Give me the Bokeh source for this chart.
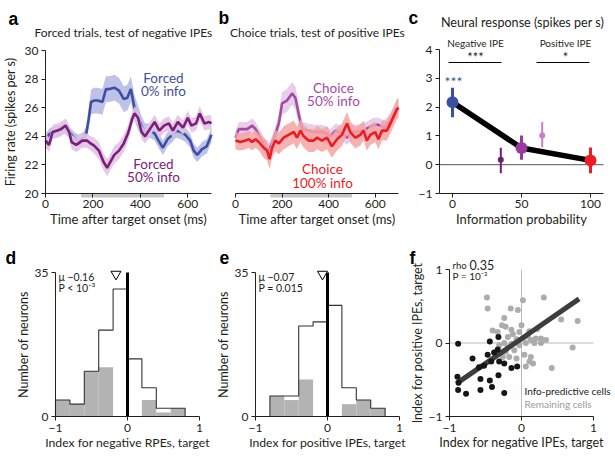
from bokeh.plotting import figure
from bokeh.layouts import row, column
from bokeh.models import Label, Range1d, FixedTicker
from bokeh.embed import file_html
from bokeh.resources import INLINE

FONT = "Lato"
INK = "#231f20"
MINUS = "\u2212"

# ---------------- data ----------------
# panel a : forced trials
a_t_f0 = [0, 20, 40, 60, 80, 100, 120, 140, 160, 172, 182, 192, 205, 220, 240, 255, 270, 290, 310, 330, 345,
          360, 375, 390, 405, 420, 440, 460, 480, 495, 515, 535, 550, 570, 590, 610, 625, 640, 660, 680, 700]
a_m_f0 = [23.8, 24.2, 24.3, 24.4, 24.6, 24.3, 23.9, 23.7, 23.9, 24.2, 25.2, 26.4, 26.5, 26.5, 26.4, 27.3, 27.3,
          27.4, 27.2, 26.6, 26.7, 27.3, 26.0, 25.3, 24.7, 24.3, 24.4, 24.2, 23.6, 23.2, 23.8, 24.1, 24.4, 24.3,
          24.1, 23.7, 23.0, 22.7, 23.1, 23.3, 24.1]
a_e_f0 = [0.4, 0.4, 0.4, 0.4, 0.4, 0.4, 0.4, 0.4, 0.4, 0.5, 0.7, 0.85, 0.9, 0.9, 0.9, 0.9, 0.9, 0.9, 0.9, 0.9,
          0.9, 0.9, 0.9, 0.85, 0.7, 0.6, 0.5, 0.5, 0.5, 0.5, 0.5, 0.5, 0.5, 0.5, 0.5, 0.5, 0.5, 0.5, 0.5, 0.5, 0.5]

a_t_f50 = [0, 15, 30, 50, 65, 85, 100, 110, 130, 155, 175, 190, 205, 225, 245, 260, 270, 290, 310, 330, 350,
           365, 375, 390, 405, 420, 440, 460, 480, 500, 520, 537, 558, 580, 600, 615, 635, 650, 670, 690, 700]
a_m_f50 = [23.7, 23.4, 24.3, 24.4, 24.5, 24.75, 24.3, 23.6, 23.4, 23.7, 23.7, 23.5, 23.35, 23.0, 22.2, 21.8,
           22.1, 22.7, 23.0, 23.5, 24.3, 25.2, 25.6, 25.3, 24.3, 24.0, 24.5, 25.0, 24.4, 24.75, 24.9, 24.4, 25.0,
           24.6, 25.3, 24.75, 24.9, 25.6, 24.9, 25.0, 24.9]
a_e_f50 = [0.5, 0.5, 0.5, 0.5, 0.5, 0.5, 0.5, 0.5, 0.5, 0.5, 0.5, 0.5, 0.55, 0.6, 0.6, 0.6, 0.6, 0.6, 0.6, 0.6,
           0.55, 0.5, 0.5, 0.5, 0.5, 0.5, 0.5, 0.5, 0.5, 0.5, 0.5, 0.5, 0.5, 0.5, 0.5, 0.5, 0.5, 0.5, 0.5, 0.5, 0.5]

# panel b : choice trials
b_t_c50 = [0, 14, 30, 50, 72, 86, 107, 129, 143, 164, 186, 200, 221, 243, 257, 271, 286, 310, 340, 370, 390,
           407, 430, 460, 479, 500, 530, 560, 593, 614, 640, 670, 700]
b_m_c50 = [23.9, 24.5, 24.5, 24.5, 24.75, 24.5, 23.9, 23.2, 23.0, 23.8, 24.9, 26.3, 26.5, 27.0, 26.7, 25.6, 24.5,
           24.4, 24.3, 24.3, 24.2, 24.0, 24.4, 24.2, 23.9, 24.3, 24.3, 24.5, 24.8, 24.8, 24.6, 25.2, 26.0]
b_e_c50 = [0.5, 0.5, 0.5, 0.5, 0.5, 0.5, 0.5, 0.5, 0.5, 0.5, 0.6, 0.8, 0.8, 0.8, 0.8, 0.7, 0.5, 0.5, 0.5, 0.5,
           0.5, 0.5, 0.5, 0.5, 0.5, 0.5, 0.5, 0.5, 0.5, 0.5, 0.5, 0.5, 0.5]

b_t_c100 = [0, 21, 43, 57, 71, 86, 100, 121, 136, 146, 157, 171, 186, 207, 228, 250, 264, 279, 293, 314, 336,
            350, 371, 393, 414, 436, 457, 479, 493, 514, 536, 550, 564, 579, 600, 614, 629, 650, 671, 693, 700]
b_m_c100 = [23.7, 23.6, 23.7, 23.8, 23.6, 23.8, 23.6, 23.2, 23.0, 22.4, 23.2, 23.7, 23.5, 23.9, 24.1, 24.3, 23.9,
            24.4, 24.0, 23.7, 23.7, 23.9, 23.7, 23.9, 23.3, 23.8, 24.1, 24.9, 24.3, 23.9, 24.1, 24.4, 23.7, 24.1,
            24.3, 23.8, 24.4, 24.4, 25.1, 25.9, 26.0]
b_e_c100 = [0.6, 0.6, 0.6, 0.6, 0.6, 0.6, 0.6, 0.7, 0.7, 0.7, 0.7, 0.75, 0.75, 0.8, 0.8, 0.8, 0.8, 0.8, 0.8, 0.8,
            0.8, 0.8, 0.8, 0.8, 0.8, 0.8, 0.8, 0.8, 0.75, 0.75, 0.75, 0.7, 0.7, 0.7, 0.7, 0.7, 0.7, 0.7, 0.7, 0.7, 0.7]

time_axis = [0, 700]
rate_axis = [20, 30]
epoch_window = [150, 500]   # grey analysis window on the time axis

# panel c : neural response vs information probability
c_prob = [0, 50, 100]
c_resp = [2.17, 0.58, 0.15]
c_lo = [1.65, 0.17, -0.30]
c_hi = [2.67, 1.01, 0.60]
c_cols = ["#3a50a2", "#9b3a9e", "#ec1c24"]
c_prob_s = [35, 65]
c_resp_s = [0.17, 1.01]
c_lo_s = [-0.30, 0.61]
c_hi_s = [0.59, 1.48]
c_cols_s = ["#6e1f72", "#c77fc9"]
c_xaxis = [-9.4, 109.4]
c_yaxis = [-1, 4]

# panels d, e : histograms
bin_edges = [-1.0, -0.8, -0.6, -0.4, -0.2, 0.0, 0.2, 0.4, 0.6, 0.8]
d_all = [4, 3, 11, 21, 31, 14, 7, 2, 2]
d_info = [4, 3, 11, 12, 0, 0, 4, 1, 2]
d_mean = -0.16
e_all = [0, 5, 5, 22, 23, 27, 7, 4, 2]
e_info = [0, 5, 4, 9, 0, 0, 3, 4, 2]
e_mean = -0.07
hist_x_axis = [-1, 1]
hist_y_axis = [0, 35]

# panel f : scatter
f_info_neg = [-0.88, -0.44, -0.32, -0.68, -0.47, -0.38, -0.33, -0.42, -0.52, -0.59, -0.31, -0.24, -0.14, -0.06,
              -0.32, -0.89, -0.875, -0.88, -0.77, -0.57, -0.44, -0.41, -0.57, -0.24]
f_info_pos = [-0.01, 0.02, 0.08, -0.21, -0.16, -0.13, -0.09, -0.25, -0.31, -0.33, -0.25, -0.28, -0.34, -0.32,
              -0.44, -0.46, -0.54, -0.64, -0.69, -0.49, -0.51, -0.60, -0.64, -0.68]
f_rest_neg = [-0.48, -0.47, 0.02, 0.31, -0.15, -0.05, -0.24, 0.55, 0.78, -0.27, -0.22, -0.40, -0.33, -0.14,
              -0.12, -0.03, 0.11, 0.22, -0.19, -0.07, 0.02, 0.13, 0.20, 0.27, 0.34, -0.24, -0.14, -0.03, 0.06,
              -0.31, -0.19, -0.10, -0.22, 0.71, -0.26, -0.17, -0.07, 0.04, 0.13, 0.11, 0.06, 0.16, 0.42, 0.00,
              0.09, 0.18, 0.27]
f_rest_pos = [0.62, 0.47, 0.58, 0.62, 0.47, 0.45, 0.34, 0.32, 0.30, 0.24, 0.22, 0.17, 0.15, 0.18, 0.12, 0.15,
              0.16, 0.19, 0.08, 0.05, 0.06, 0.04, 0.06, 0.06, 0.04, 0.00, -0.01, -0.03, 0.00, -0.03, -0.06,
              -0.10, -0.12, -0.06, -0.19, -0.19, -0.21, -0.16, -0.19, -0.25, -0.32, -0.28, -0.34, 0.24, 0.09,
              0.00, 0.00]
f_fit_x = [-0.90, 0.80]
f_fit_y = [-0.55, 0.60]
f_axis = [-1, 1]


# ---------------- helpers ----------------
class Geo:
    """page-pixel -> data mapping of one panel"""
    def __init__(self, xmap, ymap):
        self.pxa, self.da, pxb, db = xmap
        self.sx = (db - self.da) / (pxb - self.pxa)
        self.pya, self.ea, pyb, eb = ymap
        self.sy = (eb - self.ea) / (pyb - self.pya)

    def x(self, X):
        return self.da + (X - self.pxa) * self.sx

    def y(self, Y):
        return self.ea + (Y - self.pya) * self.sy


def make_panel(rect, xmap, ymap):
    left, top, right, bottom = rect
    g = Geo(xmap, ymap)
    p = figure(width=right - left, height=bottom - top,
               x_range=Range1d(g.x(left), g.x(right)), y_range=Range1d(g.y(bottom), g.y(top)),
               output_backend="svg", toolbar_location=None, title_location=None,
               min_border=0, min_border_left=0, min_border_right=0, min_border_top=0, min_border_bottom=0)
    p.outline_line_color = None
    p.grid.visible = False
    p.background_fill_color = "white"
    p.border_fill_color = "white"
    return p, g


def style_axis(ax, ticks, label, fixed, bounds, overrides=None, lab_standoff=3, axlab_standoff=2,
               label_size=13):
    ax.fixed_location = fixed
    ax.bounds = tuple(bounds)
    ax.ticker = FixedTicker(ticks=ticks)
    ax.minor_tick_line_color = None
    ax.major_tick_in = 0
    ax.major_tick_out = 4
    ax.major_label_standoff = lab_standoff
    ax.axis_line_color = INK
    ax.major_tick_line_color = INK
    ax.major_label_text_font = FONT
    ax.major_label_text_font_size = "12px"
    ax.major_label_text_color = INK
    ax.axis_label = label
    ax.axis_label_standoff = axlab_standoff
    ax.axis_label_text_font = FONT
    ax.axis_label_text_font_size = f"{label_size}px"
    ax.axis_label_text_font_style = "normal"
    ax.axis_label_text_color = INK
    if overrides:
        ax.major_label_overrides = overrides


def lab(p, g, X, Y, text, size, color=INK, align="center", baseline="middle", style="normal", font=FONT):
    p.add_layout(Label(x=g.x(X), y=g.y(Y), text=text, text_font=font, text_font_size=f"{size}px",
                       text_color=color, text_align=align, text_baseline=baseline,
                       text_font_style=style))


def letter(p, g, X, Y, text):
    lab(p, g, X, Y, text, 17.5, color="black", align="left", baseline="alphabetic", style="bold",
        font="Liberation Sans")


def band(p, t, m, e, fill, alpha):
    lo = [mi - ei for mi, ei in zip(m, e)]
    hi = [mi + ei for mi, ei in zip(m, e)]
    p.varea(x=t, y1=lo, y2=hi, fill_color=fill, fill_alpha=alpha)


# ---------------- panel a ----------------
pa, ga = make_panel((0, 0, 217, 230), (45, 0, 211, 700), (50, 30, 193, 20))
style_axis(pa.xaxis[0], [0, 200, 400, 600], "Time after target onset (ms)", rate_axis[0], time_axis,
           lab_standoff=2, axlab_standoff=0)
style_axis(pa.yaxis[0], [20, 22, 24, 26, 28, 30], "Firing rate (spikes per s)", time_axis[0], rate_axis,
           axlab_standoff=4, label_size=12.5)
pa.quad(left=[epoch_window[0]], right=[epoch_window[1]], bottom=[ga.y(197)], top=[rate_axis[0]],
        fill_color="#c8c8c8", line_color=None)
band(pa, a_t_f0, a_m_f0, a_e_f0, "#b3b7e2", 0.85)
pa.line(a_t_f0, a_m_f0, line_color="#3c4fa3", line_width=2.6)
band(pa, a_t_f50, a_m_f50, a_e_f50, "#e2c3e2", 0.9)
pa.line(a_t_f50, a_m_f50, line_color="#7a1e7b", line_width=2.6)
letter(pa, ga, 8, 18, "a")
lab(pa, ga, 123, 32, "Forced trials, test of negative IPEs", 12)
lab(pa, ga, 163, 77, "Forced", 13.5, color="#3c4fa3")
lab(pa, ga, 163, 90, "0% info", 13.5, color="#3c4fa3")
lab(pa, ga, 153, 163, "Forced", 13.5, color="#7a1e7b")
lab(pa, ga, 153, 176, "50% info", 13.5, color="#7a1e7b")

# ---------------- panel b ----------------
pb, gb = make_panel((217, 0, 407, 230), (235, 0, 398, 700), (50, 30, 193, 20))
style_axis(pb.xaxis[0], [0, 200, 400, 600], "Time after target onset (ms)", rate_axis[0], time_axis,
           lab_standoff=2, axlab_standoff=0)
pb.yaxis.visible = False
pb.quad(left=[epoch_window[0]], right=[epoch_window[1]], bottom=[gb.y(197)], top=[rate_axis[0]],
        fill_color="#c8c8c8", line_color=None)
band(pb, b_t_c50, b_m_c50, b_e_c50, "#e4c9e7", 0.9)
pb.line(b_t_c50, b_m_c50, line_color="#a648a8", line_width=2.6)
band(pb, b_t_c100, b_m_c100, b_e_c100, "#f5a3a3", 0.85)
pb.line(b_t_c100, b_m_c100, line_color="#ec1c24", line_width=2.6)
letter(pb, gb, 218, 17, "b")
lab(pb, gb, 317, 32, "Choice trials, test of positive IPEs", 12)
lab(pb, gb, 333, 87, "Choice", 13.5, color="#a648a8")
lab(pb, gb, 333, 100, "50% info", 13.5, color="#a648a8")
lab(pb, gb, 322, 168, "Choice", 13.5, color="#ec1c24")
lab(pb, gb, 322, 182, "100% info", 13.5, color="#ec1c24")

# ---------------- panel c ----------------
pc, gc = make_panel((407, 0, 614, 230), (452, 0, 590, 100), (49, 4, 193, -1))
style_axis(pc.xaxis[0], [0, 50, 100], "Information probability", c_yaxis[0], c_xaxis,
           lab_standoff=2, axlab_standoff=0)
style_axis(pc.yaxis[0], [-1, 0, 1, 2, 3, 4], "", c_xaxis[0], c_yaxis, overrides={-1: MINUS + "1"})
pc.segment(x0=[c_xaxis[0]], y0=[0], x1=[c_xaxis[1]], y1=[0], line_color="#555555", line_width=1)
pc.segment(x0=c_prob_s, y0=c_lo_s, x1=c_prob_s, y1=c_hi_s, line_color=c_cols_s, line_width=2)
pc.scatter(c_prob_s, c_resp_s, size=6, fill_color=c_cols_s, line_color=None)
pc.line(c_prob, c_resp, line_color="black", line_width=5.5)
pc.segment(x0=c_prob, y0=c_lo, x1=c_prob, y1=c_hi, line_color=c_cols, line_width=3)
pc.scatter(c_prob, c_resp, size=12, fill_color=c_cols, line_color=None)
letter(pc, gc, 408, 17, "c")
lab(pc, gc, 522, 22, "Neural response (spikes per s)", 12.6)
lab(pc, gc, 475, 42, "Negative IPE", 10)
lab(pc, gc, 565, 42, "Positive IPE", 10)
lab(pc, gc, 475, 56, "***", 13)
lab(pc, gc, 565, 56, "*", 13)
lab(pc, gc, 453, 81, "***", 14, color="#3a50a2")
pc.segment(x0=[gc.x(448), gc.x(536)], y0=[gc.y(62), gc.y(62)], x1=[gc.x(501), gc.x(589)],
           y1=[gc.y(62), gc.y(62)], line_color="black", line_width=1.2)


# ---------------- panels d, e ----------------
def hist_panel(rect, X0, counts_all, counts_info, mean, xlabel, letter_x, letter_txt, stats):
    p, g = make_panel(rect, (X0, -1, X0 + 144, 1), (272, 35, 416, 0))
    style_axis(p.xaxis[0], [-1, 0, 1], xlabel, hist_y_axis[0], hist_x_axis,
               overrides={-1: MINUS + "1"}, lab_standoff=3, axlab_standoff=0, label_size=12.2)
    style_axis(p.yaxis[0], [0, 35], "Number of neurons", hist_x_axis[0], hist_y_axis, axlab_standoff=1,
               label_size=12.5)
    p.quad(left=bin_edges[:-1], right=bin_edges[1:], bottom=0, top=counts_info,
           fill_color="#b3b3b3", line_color=None)
    xs = [bin_edges[0]] + bin_edges
    ys = [0] + counts_all + [0]
    p.step(xs, ys, mode="after", line_color="#333333", line_width=1.1)
    p.segment(x0=[0], y0=[hist_y_axis[0]], x1=[0], y1=[hist_y_axis[1]], line_color="black", line_width=3)
    p.scatter([mean], [34.6], marker="inverted_triangle", size=10, fill_color="white",
              line_color="black", line_width=1)
    letter(p, g, letter_x, 257, letter_txt)
    lab(p, g, X0 + 3, 276, stats[0], 10.5, align="left")
    lab(p, g, X0 + 3, 287, stats[1], 10.5, align="left")
    return p


pd_ = hist_panel((0, 230, 212, 456), 55, d_all, d_info, d_mean, "Index for negative RPEs, target", 5, "d",
                 ["\u03bc " + MINUS + "0.16", "P < 10\u207b\u00b3"])
pe = hist_panel((212, 230, 408, 456), 255, e_all, e_info, e_mean, "Index for positive IPEs, target", 219, "e",
                ["\u03bc " + MINUS + "0.07", "P = 0.015"])

# ---------------- panel f ----------------
pf, gf = make_panel((408, 230, 614, 456), (449, -1, 593, 1), (269, 1, 416, -1))
style_axis(pf.xaxis[0], [-1, 0, 1], "Index for negative IPEs, target", f_axis[0], f_axis,
           overrides={-1: MINUS + "1"}, lab_standoff=3, axlab_standoff=0, label_size=12.5)
style_axis(pf.yaxis[0], [-1, 0, 1], "Index for positive IPEs, target", f_axis[0], f_axis,
           overrides={-1: MINUS + "1"}, axlab_standoff=1, label_size=12.5)
pf.segment(x0=[f_axis[0], 0], y0=[0, f_axis[0]], x1=[f_axis[1], 0], y1=[0, f_axis[1]],
           line_color="#bbbbbb", line_width=1)
pf.scatter(f_rest_neg, f_rest_pos, size=6, fill_color="#acacac", line_color=None)
pf.line(f_fit_x, f_fit_y, line_color="#3d3d3d", line_width=5)
pf.scatter(f_info_neg, f_info_pos, size=6, fill_color="#161616", line_color=None)
letter(pf, gf, 409, 257, "f")
lab(pf, gf, 452, 265, "rho", 9.5, align="left")
lab(pf, gf, 469, 264, "0.35", 12.5, align="left")
lab(pf, gf, 452, 275, "P = 10\u207b\u00b3", 10, align="left")
lab(pf, gf, 524, 390, "Info-predictive cells", 10, color="#1a1a1a", align="left")
lab(pf, gf, 524, 403, "Remaining cells", 10, color="#999999", align="left")

layout = column(row(pa, pb, pc), row(pd_, pe, pf))
open("out.html", "w").write(file_html(layout, INLINE))
